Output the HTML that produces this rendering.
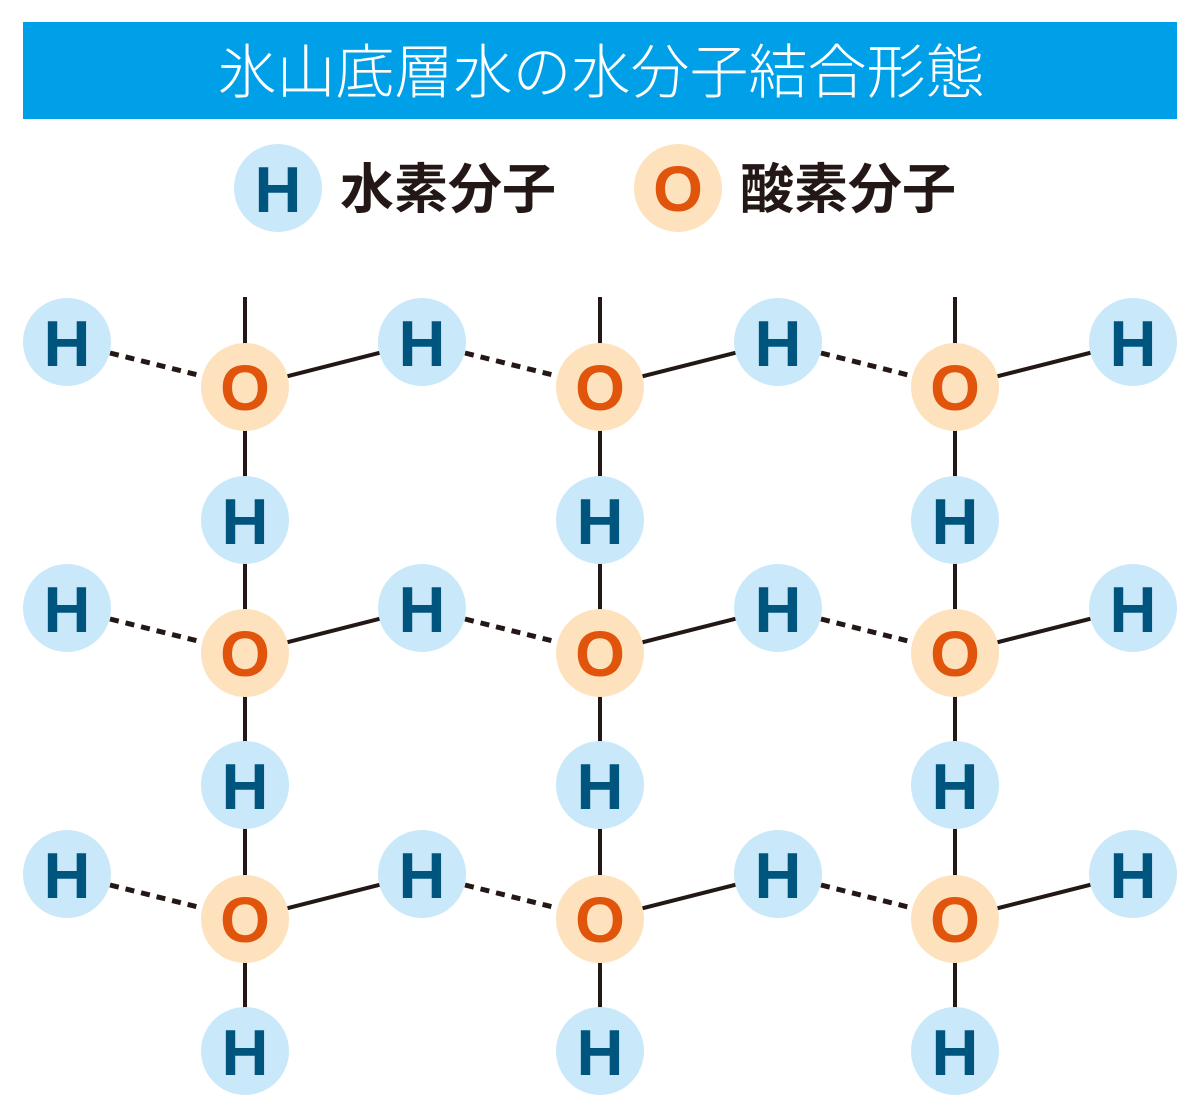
<!DOCTYPE html>
<html><head><meta charset="utf-8"><style>
html,body{margin:0;padding:0;background:#fff;}
svg{display:block;}
.h{fill:#c9e8f9}.o{fill:#fde2bd}
.ht{font-family:"Liberation Sans",sans-serif;font-weight:bold;font-size:65px;fill:#00557f;text-anchor:middle}
.ot{font-family:"Liberation Sans",sans-serif;font-weight:bold;font-size:64px;fill:#e0540b;text-anchor:middle}
.d{stroke:#231815;stroke-width:5;stroke-dasharray:9 7}
.s{stroke:#231815;stroke-width:4}
</style></head><body>
<svg width="1200" height="1118" viewBox="0 0 1200 1118" xmlns="http://www.w3.org/2000/svg">
<rect x="23" y="22" width="1154" height="97" fill="#00a0e9"/>
<text x="601" y="93" text-anchor="middle" font-family="Noto Sans CJK JP, sans-serif" font-weight="300" font-size="59" fill="#fff">氷山底層水の水分子結合形態</text>
<circle cx="278" cy="188" r="44" class="h"/><text x="278" y="212" class="ht">H</text>
<text x="340" y="208" font-family="Noto Sans CJK JP, sans-serif" font-weight="bold" font-size="54" fill="#231815">水素分子</text>
<circle cx="678" cy="188" r="44" class="o"/><text x="678" y="211" class="ot">O</text>
<text x="740" y="208" font-family="Noto Sans CJK JP, sans-serif" font-weight="bold" font-size="54" fill="#231815">酸素分子</text>

<line class="s" x1="245" y1="297" x2="245" y2="1051"/>
<line class="s" x1="600" y1="297" x2="600" y2="1051"/>
<line class="s" x1="955" y1="297" x2="955" y2="1051"/>

<line class="d" x1="110" y1="353" x2="202" y2="376"/>
<line class="d" x1="465" y1="353" x2="557" y2="376"/>
<line class="d" x1="821" y1="353" x2="912" y2="376"/>
<line class="s" x1="245" y1="387" x2="422" y2="342"/>
<line class="s" x1="600" y1="387" x2="778" y2="342"/>
<line class="s" x1="955" y1="387" x2="1133" y2="342"/>

<line class="d" x1="110" y1="619" x2="202" y2="642"/>
<line class="d" x1="465" y1="619" x2="557" y2="642"/>
<line class="d" x1="821" y1="619" x2="912" y2="642"/>
<line class="s" x1="245" y1="653" x2="422" y2="608"/>
<line class="s" x1="600" y1="653" x2="778" y2="608"/>
<line class="s" x1="955" y1="653" x2="1133" y2="608"/>

<line class="d" x1="110" y1="885" x2="202" y2="908"/>
<line class="d" x1="465" y1="885" x2="557" y2="908"/>
<line class="d" x1="821" y1="885" x2="912" y2="908"/>
<line class="s" x1="245" y1="919" x2="422" y2="874"/>
<line class="s" x1="600" y1="919" x2="778" y2="874"/>
<line class="s" x1="955" y1="919" x2="1133" y2="874"/>

<g>
<circle cx="67" cy="342" r="44" class="h"/><text x="67" y="366" class="ht">H</text>
<circle cx="422" cy="342" r="44" class="h"/><text x="422" y="366" class="ht">H</text>
<circle cx="778" cy="342" r="44" class="h"/><text x="778" y="366" class="ht">H</text>
<circle cx="1133" cy="342" r="44" class="h"/><text x="1133" y="366" class="ht">H</text>
<circle cx="67" cy="608" r="44" class="h"/><text x="67" y="632" class="ht">H</text>
<circle cx="422" cy="608" r="44" class="h"/><text x="422" y="632" class="ht">H</text>
<circle cx="778" cy="608" r="44" class="h"/><text x="778" y="632" class="ht">H</text>
<circle cx="1133" cy="608" r="44" class="h"/><text x="1133" y="632" class="ht">H</text>
<circle cx="67" cy="874" r="44" class="h"/><text x="67" y="898" class="ht">H</text>
<circle cx="422" cy="874" r="44" class="h"/><text x="422" y="898" class="ht">H</text>
<circle cx="778" cy="874" r="44" class="h"/><text x="778" y="898" class="ht">H</text>
<circle cx="1133" cy="874" r="44" class="h"/><text x="1133" y="898" class="ht">H</text>

<circle cx="245" cy="387" r="44" class="o"/><text x="245" y="410" class="ot">O</text>
<circle cx="600" cy="387" r="44" class="o"/><text x="600" y="410" class="ot">O</text>
<circle cx="955" cy="387" r="44" class="o"/><text x="955" y="410" class="ot">O</text>
<circle cx="245" cy="653" r="44" class="o"/><text x="245" y="676" class="ot">O</text>
<circle cx="600" cy="653" r="44" class="o"/><text x="600" y="676" class="ot">O</text>
<circle cx="955" cy="653" r="44" class="o"/><text x="955" y="676" class="ot">O</text>
<circle cx="245" cy="919" r="44" class="o"/><text x="245" y="942" class="ot">O</text>
<circle cx="600" cy="919" r="44" class="o"/><text x="600" y="942" class="ot">O</text>
<circle cx="955" cy="919" r="44" class="o"/><text x="955" y="942" class="ot">O</text>

<circle cx="245" cy="520" r="44" class="h"/><text x="245" y="544" class="ht">H</text>
<circle cx="600" cy="520" r="44" class="h"/><text x="600" y="544" class="ht">H</text>
<circle cx="955" cy="520" r="44" class="h"/><text x="955" y="544" class="ht">H</text>
<circle cx="245" cy="785" r="44" class="h"/><text x="245" y="809" class="ht">H</text>
<circle cx="600" cy="785" r="44" class="h"/><text x="600" y="809" class="ht">H</text>
<circle cx="955" cy="785" r="44" class="h"/><text x="955" y="809" class="ht">H</text>
<circle cx="245" cy="1051" r="44" class="h"/><text x="245" y="1075" class="ht">H</text>
<circle cx="600" cy="1051" r="44" class="h"/><text x="600" y="1075" class="ht">H</text>
<circle cx="955" cy="1051" r="44" class="h"/><text x="955" y="1075" class="ht">H</text>
</g>
</svg>
</body></html>
